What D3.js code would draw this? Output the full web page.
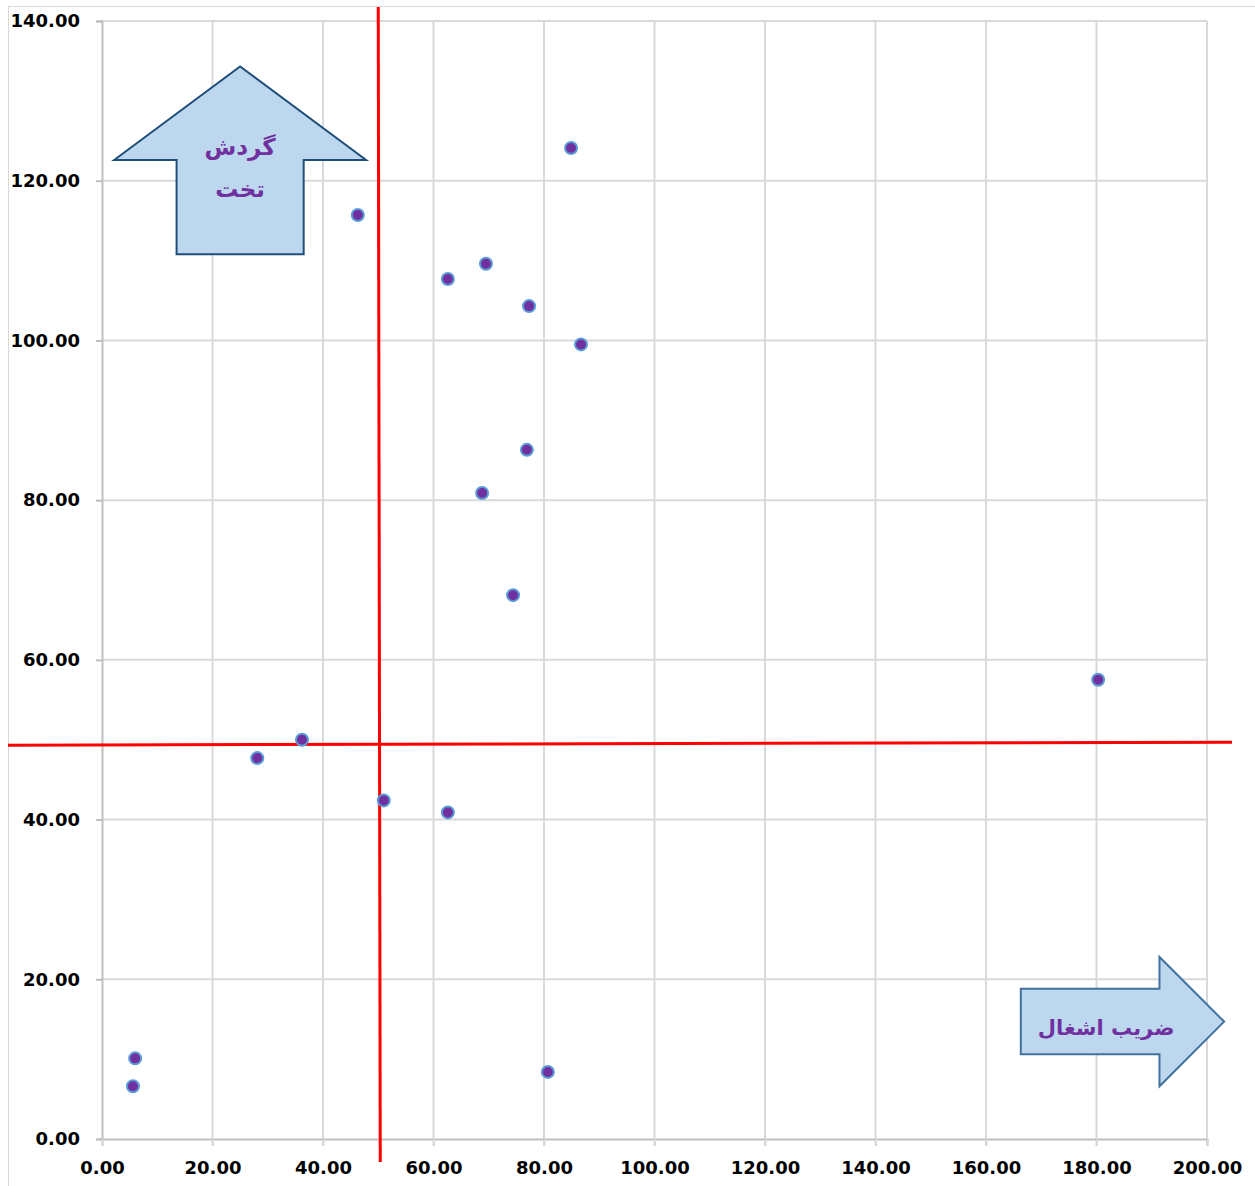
<!DOCTYPE html>
<html>
<head>
<meta charset="utf-8">
<script src="https://cdn.jsdelivr.net/npm/d3@7"></script>
<style>
  body { margin: 0; background: #fff; }
  svg { display: block; }
</style>
</head>
<body>
<div id="chart"></div>
<script>
// --- Data ---
const xValues = [5.6, 6.0, 28.1, 36.2, 46.3, 51.0, 62.6, 62.6, 69.5, 68.8, 74.4, 77.3, 76.9, 80.7, 84.9, 86.7, 180.3];
const yValues = [6.6, 10.1, 47.7, 50.0, 115.7, 42.4, 40.9, 107.7, 109.6, 80.9, 68.1, 104.3, 86.3, 8.4, 124.1, 99.5, 57.5];
const xTicks = [0, 20, 40, 60, 80, 100, 120, 140, 160, 180, 200];
const yTicks = [0, 20, 40, 60, 80, 100, 120, 140];
const xCut = 50;     // vertical red divider
const yCut = 49.5;   // horizontal red divider
const upLabel = ["گردش", "تخت"];
const rightLabel = "ضریب اشغال";

const points = xValues.map((x, i) => ({ x, y: yValues[i] }));

// --- Dimensions ---
const W = 1255, H = 1186;
const margin = { top: 21, right: 48, bottom: 47, left: 102 };
const width = W - margin.left - margin.right;
const height = H - margin.top - margin.bottom;

const svg = d3.select("#chart").append("svg")
  .attr("width", W).attr("height", H);

// chart border
svg.append("rect")
  .attr("x", 8.5).attr("y", 6.5).attr("width", W - 8).attr("height", H - 6)
  .attr("fill", "none").attr("stroke", "#d9d9d9").attr("stroke-width", 1);

const g = svg.append("g").attr("transform", `translate(${margin.left},${margin.top})`);

// --- Scales ---
const x = d3.scaleLinear().domain([0, 200]).range([0, width]);
const y = d3.scaleLinear().domain([0, 140]).range([height, 0]);

// --- Grid ---
g.append("g").selectAll("line").data(xTicks.slice(1)).join("line")
  .attr("x1", d => x(d)).attr("x2", d => x(d))
  .attr("y1", 0).attr("y2", height + 7)
  .attr("stroke", "#d9d9d9").attr("stroke-width", 2);

g.append("g").selectAll("line").data(yTicks.slice(1)).join("line")
  .attr("x1", 0).attr("x2", width)
  .attr("y1", d => y(d)).attr("y2", d => y(d))
  .attr("stroke", "#d9d9d9").attr("stroke-width", 2);

// --- Axes ---
const fmt = d3.format(".2f");
const tickFont = sel => sel
  .style("font-family", "'DejaVu Sans', sans-serif")
  .style("font-weight", "bold").style("font-size", "18px").attr("fill", "#000");

const yAxis = g.append("g")
  .call(d3.axisLeft(y).tickValues(yTicks).tickFormat(fmt).tickSize(6).tickPadding(16));
yAxis.select(".domain").attr("stroke", "#bfbfbf").attr("stroke-width", 2);
yAxis.selectAll(".tick line").attr("stroke", "#bfbfbf").attr("stroke-width", 2);
yAxis.selectAll("text").call(tickFont);

const xAxis = g.append("g").attr("transform", `translate(0,${height})`)
  .call(d3.axisBottom(x).tickValues(xTicks).tickFormat(fmt).tickSize(7).tickPadding(15));
xAxis.select(".domain").attr("stroke", "#bfbfbf").attr("stroke-width", 2);
xAxis.selectAll(".tick line").attr("stroke", "#d9d9d9").attr("stroke-width", 2);
xAxis.selectAll("text").call(tickFont);

// --- Red dividers ---
g.append("line")
  .attr("x1", x(xCut)).attr("x2", x(xCut) + 2)
  .attr("y1", -14).attr("y2", height + 23)
  .attr("stroke", "#ff0000").attr("stroke-width", 3);
g.append("line")
  .attr("x1", -94).attr("x2", width + 25)
  .attr("y1", y(yCut) + 1.5).attr("y2", y(yCut) - 1.5)
  .attr("stroke", "#ff0000").attr("stroke-width", 3);

// --- Points ---
g.append("g").selectAll("circle").data(points).join("circle")
  .attr("cx", d => x(d.x)).attr("cy", d => y(d.y))
  .attr("r", 6)
  .attr("fill", "#7030a0")
  .attr("stroke", "#5b9bd5").attr("stroke-width", 2);

// --- Arrows ---
const labelFont = sel => sel
  .attr("text-anchor", "middle")
  .attr("direction", "rtl")
  .style("font-family", "'DejaVu Sans', sans-serif")
  .style("font-weight", "bold").style("font-size", "23px")
  .attr("fill", "#7030a0");

// up arrow, anchored in data units
const ua = { cx: x(25), tip: y(134.3), shoulder: y(122.6), base: y(110.8), half: x(22.8) - x(0), stem: x(11.5) - x(0) };
const upPts = [
  [ua.cx - ua.half, ua.shoulder], [ua.cx, ua.tip], [ua.cx + ua.half, ua.shoulder],
  [ua.cx + ua.stem, ua.shoulder], [ua.cx + ua.stem, ua.base],
  [ua.cx - ua.stem, ua.base], [ua.cx - ua.stem, ua.shoulder]
];
g.append("polygon")
  .attr("points", upPts.map(p => p.join(",")).join(" "))
  .attr("fill", "#bdd7ee").attr("stroke", "#1f4e79").attr("stroke-width", 2);
g.append("g").selectAll("text").data(upLabel).join("text")
  .attr("x", ua.cx).attr("y", (d, i) => y(123.2) + i * 42)
  .call(labelFont)
  .text(d => d);

// right arrow
const ra = { left: x(166.3), neck: x(191.4), tip: x(203.1), cy: y(14.7), half: y(0) - y(4.1), head: y(0) - y(8.1) };
const rightPts = [
  [ra.left, ra.cy - ra.half], [ra.neck, ra.cy - ra.half], [ra.neck, ra.cy - ra.head],
  [ra.tip, ra.cy], [ra.neck, ra.cy + ra.head], [ra.neck, ra.cy + ra.half], [ra.left, ra.cy + ra.half]
];
g.append("polygon")
  .attr("points", rightPts.map(p => p.join(",")).join(" "))
  .attr("fill", "#bdd7ee").attr("stroke", "#41719c").attr("stroke-width", 2);
g.append("text")
  .attr("x", (ra.left + ra.neck) / 2 + 16).attr("y", ra.cy + 13)
  .call(labelFont)
  .style("font-size", "21px")
  .text(rightLabel);
</script>
</body>
</html>
